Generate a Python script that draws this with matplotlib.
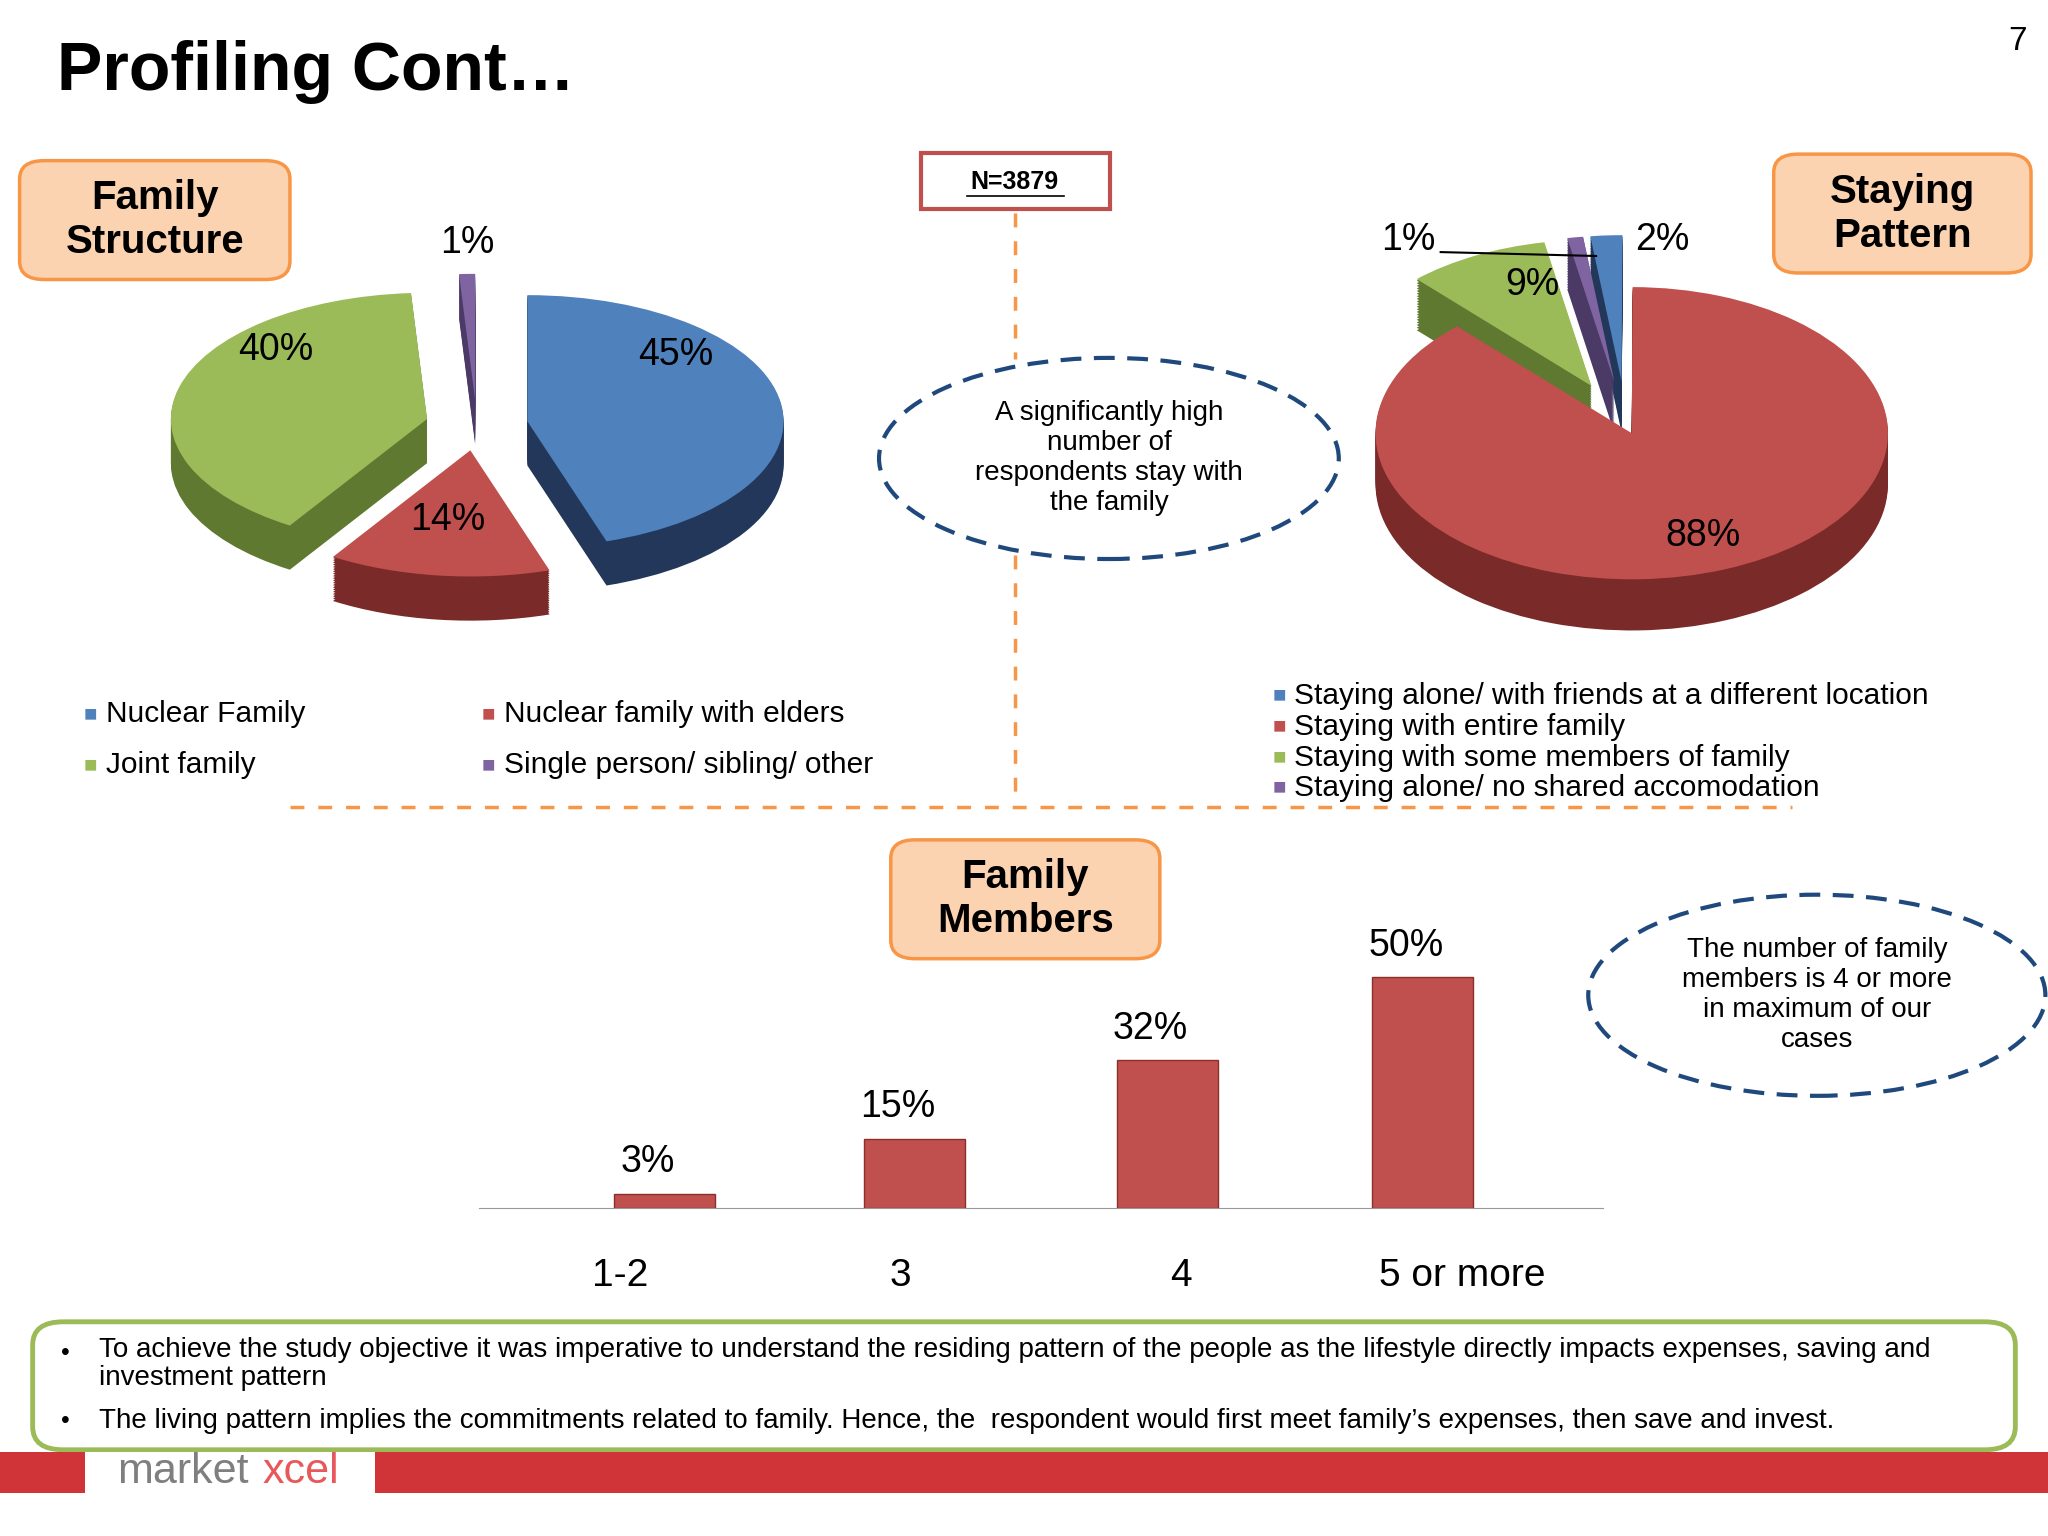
import numpy as np
import matplotlib.pyplot as plt
from matplotlib.patches import FancyBboxPatch, Ellipse, Rectangle
from matplotlib.lines import Line2D

plt.rcParams['font.family'] = ['Liberation Sans', 'DejaVu Sans']

# data
fam_labels = ['Nuclear Family', 'Nuclear family with elders', 'Joint family', 'Single person/ sibling/ other']
fam_values = [45, 14, 40, 1]
stay_labels = ['Staying alone/ with friends at a different location', 'Staying with entire family',
               'Staying with some members of family', 'Staying alone/ no shared accomodation']
stay_values = [2, 88, 9, 1]
member_cats = ['1-2', '3', '4', '5 or more']
member_values = [3, 15, 32, 50]

top_cols = ['#4f81bd', '#c0504d', '#9bbb59', '#8064a2']
side_cols = ['#22375a', '#7a2a28', '#5f7a30', '#4b3a66']

W, H = 1568, 1176
fig = plt.figure(figsize=(20.48, 15.36), dpi=100)


def fx(x):
    return x / W


def fy(y):
    return 1 - y / H


def tbox(x0, y0, x1, y1, text, size=30):
    fig.patches.append(FancyBboxPatch((fx(x0), fy(y1)), fx(x1 - x0), fy(y0) - fy(y1),
                                      boxstyle='round,pad=0,rounding_size=0.012',
                                      transform=fig.transFigure, fc='#fcd3b0', ec='#f79646', lw=2.5))
    fig.text(fx((x0 + x1) / 2), fy((y0 + y1) / 2), text, ha='center', va='center',
             fontsize=size, fontweight='bold', linespacing=1.2)


def pie3d(rect, values, explode, start, depth=0.35):
    ax = fig.add_axes(rect)
    for k in np.linspace(depth, 0.01, 20):
        ax.pie(values, explode=explode, startangle=start, counterclock=False,
               colors=side_cols, center=(0, -k), wedgeprops=dict(lw=0))
    ax.pie(values, explode=explode, startangle=start, counterclock=False,
           colors=top_cols, wedgeprops=dict(lw=0))
    ax.set_aspect('auto')
    ax.set_xlim(-1.3, 1.3)
    ax.set_ylim(-1.3 - depth, 1.3)
    ax.axis('off')
    return ax


# title and page number
fig.text(fx(44), fy(55), 'Profiling Cont\u2026', fontsize=49, fontweight='bold', va='center')
fig.text(fx(1545), fy(32), '7', fontsize=24, ha='center', va='center')

# left pie
pie3d([fx(110), fy(485), fx(510), fy(200) - fy(485)], fam_values, [0.2, 0.2, 0.2, 0.2], 90)
for t, (x, y) in zip(['45%', '14%', '40%', '1%'], [(517, 272), (343, 398), (211, 268), (358, 186)]):
    fig.text(fx(x), fy(y), t, fontsize=27, ha='center', va='center')

# right pie
pie3d([fx(990), fy(510), fx(510), fy(180) - fy(510)], stay_values, [0.3, 0.06, 0.3, 0.3], 97)
for t, (x, y) in zip(['2%', '88%', '9%', '1%'], [(1273, 184), (1304, 410), (1173, 218), (1078, 184)]):
    fig.text(fx(x), fy(y), t, fontsize=27, ha='center', va='center')
fig.lines.append(Line2D([fx(1103), fx(1222)], [fy(193), fy(196)], transform=fig.transFigure, color='k', lw=1.5))

# legends
for lab, col, (x, y) in zip(fam_labels, top_cols, [(64, 547), (369, 547), (64, 586), (369, 586)]):
    fig.text(fx(x), fy(y), '\u25a0', color=col, fontsize=16, va='center')
    fig.text(fx(x + 17), fy(y), lab, fontsize=21.5, va='center')
for i, (lab, col) in enumerate(zip(stay_labels, top_cols)):
    y = 533 + i * 23.5
    fig.text(fx(974), fy(y), '\u25a0', color=col, fontsize=16, va='center')
    fig.text(fx(991), fy(y), lab, fontsize=21.5, va='center')

# boxes
tbox(15, 123, 222, 214, 'Family\nStructure', 29)
tbox(1358, 118, 1555, 209, 'Staying\nPattern', 29)
tbox(682, 643, 888, 734, 'Family\nMembers', 29)
fig.patches.append(Rectangle((fx(705), fy(160)), fx(145), fy(117) - fy(160), transform=fig.transFigure,
                             fc='white', ec='#c0504d', lw=3))
fig.text(fx(777), fy(139), 'N=3879', fontsize=18, fontweight='bold', ha='center', va='center')
fig.lines.append(Line2D([fx(740), fx(815)], [fy(150), fy(150)], transform=fig.transFigure, color='k', lw=1.2))

# orange dashed separators
dash = dict(transform=fig.transFigure, color='#f79646', lw=2.5, ls=(0, (4, 4)))
fig.lines.append(Line2D([fx(222), fx(1372)], [fy(618), fy(618)], **dash))
fig.lines.append(Line2D([fx(777), fx(777)], [fy(163), fy(275)], **dash))
fig.lines.append(Line2D([fx(777), fx(777)], [fy(425), fy(615)], **dash))

# dashed ellipses
for cx, cy, w, h, txt in [(849, 351, 352, 154, 'A significantly high\nnumber of\nrespondents stay with\nthe family'),
                          (1391, 762, 350, 154, 'The number of family\nmembers is 4 or more\nin maximum of our\ncases')]:
    fig.patches.append(Ellipse((fx(cx), fy(cy)), fx(w), fy(0) - fy(h), transform=fig.transFigure,
                               fc='none', ec='#1f497d', lw=3, ls=(0, (5, 3))))
    fig.text(fx(cx), fy(cy), txt, fontsize=20, ha='center', va='center', linespacing=1.2)

# bar chart
ax3 = fig.add_axes([fx(367), fy(925), fx(860), fy(713) - fy(925)])
pos = np.arange(len(member_cats))
bar_pos = pos + np.array([0.16, 0.05, -0.05, -0.14])
ax3.bar(bar_pos, member_values, width=0.36, color='#c0504d', edgecolor='#8b2e2c', lw=1)
for p, v in zip(bar_pos, member_values):
    ax3.text(p - 0.06, v + 3, f'{v}%', ha='center', va='bottom', fontsize=27)
ax3.set_xlim(-0.5, 3.5)
ax3.set_ylim(0, 60)
ax3.set_xticks(pos)
ax3.set_xticklabels(member_cats, fontsize=28)
ax3.tick_params(axis='x', length=0, pad=36)
ax3.set_yticks([])
for s in ['top', 'right', 'left']:
    ax3.spines[s].set_visible(False)
ax3.spines['bottom'].set_color('#999999')

# bottom note box
fig.patches.append(FancyBboxPatch((fx(25), fy(1110)), fx(1518), fy(1012) - fy(1110),
                                  boxstyle='round,pad=0,rounding_size=0.015', transform=fig.transFigure,
                                  fc='white', ec='#9bbb59', lw=3.5))
fig.text(fx(47), fy(1036), '\u2022', fontsize=18, va='center')
fig.text(fx(76), fy(1024), 'To achieve the study objective it was imperative to understand the residing pattern of the people as the lifestyle directly impacts expenses, saving and\ninvestment pattern',
         fontsize=20, va='top', linespacing=1.1)
fig.text(fx(47), fy(1088), '\u2022', fontsize=18, va='center')
fig.text(fx(76), fy(1088), 'The living pattern implies the commitments related to family. Hence, the  respondent would first meet family\u2019s expenses, then save and invest.',
         fontsize=20, va='center')

# footer
fig.patches.append(Rectangle((0, fy(1143)), 1, fy(1112) - fy(1143), transform=fig.transFigure,
                             fc='#d13438', ec='none'))
fig.patches.append(Rectangle((fx(65), 0), fx(222), fy(1112), transform=fig.transFigure, fc='white', ec='none'))
fig.text(fx(90), fy(1127), 'market', fontsize=31, color='#7f7f7f', va='center')
fig.text(fx(201), fy(1127), 'xcel', fontsize=31, color='#e8585b', va='center')

fig.savefig('out.png', dpi=100)
